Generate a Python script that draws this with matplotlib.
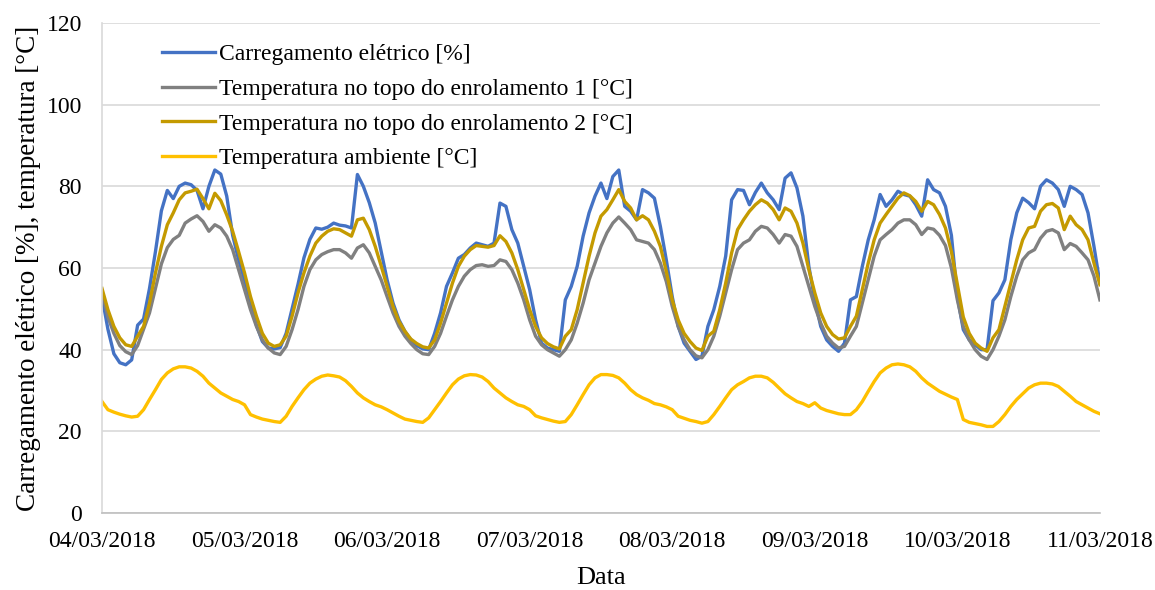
import numpy as np
import pandas as pd
import matplotlib
matplotlib.use("Agg")
import matplotlib.pyplot as plt
import matplotlib.dates as mdates

plt.rcParams['font.family'] = ['Liberation Serif', 'DejaVu Serif']

# hourly readings, 04/03/2018 00:00 .. 11/03/2018 00:00
tempo = pd.date_range('2018-03-04', periods=169, freq='h')

carregamento = [
    53, 45, 39, 36.8, 36.3, 37.5, 46, 47.5, 55, 64, 74, 79, 77, 80, 80.8, 80.4, 79, 74.5, 80, 84, 83, 77.6, 68, 62,
    57, 51.5, 46, 42, 40.4, 40.2, 40.5, 44, 50, 56, 62.5, 67, 69.8, 69.5, 70, 71, 70.5, 70.3, 69.8, 82.9, 80, 76, 71, 64,
    57.1, 51.4, 47.3, 44.5, 42.4, 41, 40.2, 40, 44, 49, 55.5, 58.8, 62.4, 63.3, 64.9, 66.1, 65.7, 65.3, 66.1, 75.9, 75.1, 69.4, 66.1, 60.4,
    54.7, 47.3, 41.6, 40.4, 40, 39.6, 52.2, 55.5, 60.4, 67.8, 73.5, 77.6, 80.8, 77, 82.4, 84, 75.1, 73.9, 71.8, 79.2, 78.4, 77.1, 70.2, 62,
    53, 45.7, 41.6, 39.6, 37.6, 38.4, 45.7, 49.8, 55.5, 62.9, 76.7, 79.2, 79, 75.5, 78.5, 80.8, 78.4, 76.7, 74.3, 82, 83.3, 79.6, 72.7, 60.4,
    52.2, 45.7, 42.4, 40.8, 39.6, 41.6, 52.2, 53, 60.4, 66.9, 71.8, 78, 75.1, 76.7, 78.8, 78, 77.6, 75.5, 72.7, 81.6, 79.2, 78.4, 75.1, 68,
    53, 44.9, 42.4, 41.2, 40, 40, 52, 53.9, 57.1, 66.9, 73.5, 77.1, 76, 74.5, 80, 81.6, 80.8, 79.2, 75.1, 80, 79.2, 78, 73.5, 65.3, 56.3]

temp_enrol1 = [
    54, 48, 44, 41, 39.5, 38.8, 41, 45, 49, 55, 61, 65, 67, 68, 71, 72, 72.8, 71.4, 69, 70.6, 69.8, 67.8, 64.5, 59.6,
    54.7, 49.8, 45.7, 42.4, 40.4, 39.2, 38.8, 40.8, 44.9, 49.8, 55.5, 59.6, 62, 63.3, 64, 64.5, 64.5, 63.7, 62.4, 64.9, 65.7, 63.7, 60.4, 57.1,
    53, 49, 45.7, 43.3, 41.5, 40, 39, 38.8, 40.8, 44, 48.2, 52.2, 55.5, 58, 59.6, 60.6, 60.8, 60.4, 60.6, 62, 61.6, 59.6, 56.3, 52.2,
    47.3, 43.3, 41.2, 40, 39.2, 38.4, 40, 42.4, 46.5, 51.4, 57.1, 61.2, 65.3, 68.6, 71, 72.5, 71, 69.4, 66.9, 66.5, 66.1, 64.5, 61.2, 56.7,
    50.6, 45.7, 42.4, 40, 38.5, 38, 40, 43.3, 48.2, 53.9, 59.6, 64.5, 66.1, 66.9, 69, 70.2, 69.8, 68.2, 66.1, 68.2, 67.8, 65.3, 60.4, 55.5,
    50.6, 46.5, 43.3, 41.6, 40.4, 40.8, 43.3, 45.7, 51.4, 57.1, 62.9, 66.9, 68.2, 69.4, 71, 71.8, 71.8, 70.6, 68.2, 69.8, 69.5, 68, 65.5, 60,
    52.2, 45.7, 42.4, 40, 38.4, 37.6, 40, 43.3, 47.3, 53, 58, 62, 63.7, 64.5, 67.3, 69, 69.4, 68.6, 64.5, 66, 65.3, 63.7, 62, 58, 52.2]

temp_enrol2 = [
    55, 49.8, 45.7, 42.9, 41.2, 40.8, 43.3, 45.7, 51.4, 58.8, 65.3, 70.6, 73.5, 76.7, 78.4, 78.8, 79.3, 77, 74.5, 78.3, 76.5, 73, 69, 64,
    58.8, 53, 48.2, 44, 41.6, 40.8, 41.2, 43.3, 48.2, 53.9, 58.8, 62.9, 66.1, 67.8, 69, 69.6, 69.4, 68.6, 67.8, 71.8, 72.2, 69.4, 65.3, 60.5,
    55.5, 50.6, 46.9, 44.5, 42.6, 41.5, 40.7, 40.4, 42.4, 46.5, 51.4, 56.3, 60.4, 62.9, 64.5, 65.5, 65.3, 65.1, 65.5, 67.9, 66.5, 63.7, 59.6, 54.7,
    49.8, 45.7, 42.9, 41.5, 40.7, 40.2, 43.3, 44.9, 49.8, 56.3, 62.9, 68.6, 72.7, 74.3, 76.7, 79.2, 76.3, 74.7, 71.8, 72.8, 71.8, 69, 65.3, 59.2,
    52.2, 47.3, 44, 42, 40.4, 39.8, 43.3, 44.5, 49.8, 56.3, 63.7, 69.4, 71.8, 73.9, 75.5, 76.7, 75.9, 74.3, 71.8, 74.7, 73.9, 71, 66.1, 59.6,
    53.9, 49, 45.7, 43.7, 42.6, 42.9, 45.7, 48.2, 54.7, 61.2, 66.9, 71, 73.1, 75.1, 77.1, 78.4, 77.7, 76.3, 73.9, 76.3, 75.5, 73.1, 69.8, 64,
    56, 48, 44, 41.6, 40.4, 39.6, 42.9, 44.9, 50.6, 56.3, 62, 66.9, 69.8, 70.2, 73.9, 75.5, 75.8, 74.7, 69.4, 72.7, 70.6, 69.4, 66.9, 61.2, 55.9]

temp_ambiente = [
    27.3, 25.3, 24.7, 24.2, 23.8, 23.5, 23.7, 25.3, 27.8, 30.2, 32.7, 34.3, 35.3, 35.8, 35.8, 35.5, 34.7, 33.5, 31.8, 30.6, 29.4, 28.6, 27.8, 27.3,
    26.5, 24.1, 23.5, 23, 22.7, 22.4, 22.2, 23.7, 26.1, 28.2, 30.2, 31.8, 32.8, 33.5, 33.8, 33.6, 33.3, 32.4, 31, 29.4, 28.2, 27.3, 26.5, 26,
    25.3, 24.5, 23.7, 23, 22.7, 22.4, 22.2, 23.3, 25.3, 27.3, 29.4, 31.4, 32.8, 33.6, 33.9, 33.8, 33.3, 32.2, 30.6, 29.4, 28.2, 27.3, 26.5, 26.1,
    25.3, 23.8, 23.3, 22.9, 22.5, 22.2, 22.4, 24.1, 26.5, 29, 31.4, 33.1, 33.9, 33.9, 33.7, 33.1, 31.8, 30.2, 29, 28.2, 27.6, 26.8, 26.5, 26,
    25.3, 23.7, 23.2, 22.7, 22.4, 22, 22.4, 24.1, 26.1, 28.2, 30.2, 31.4, 32.2, 33.1, 33.5, 33.5, 33.1, 32, 30.6, 29.2, 28.2, 27.3, 26.8, 26.1,
    27, 25.7, 25.1, 24.7, 24.3, 24.1, 24.1, 25.3, 27.3, 29.8, 32.2, 34.3, 35.5, 36.3, 36.5, 36.3, 35.8, 34.7, 33.1, 31.8, 30.8, 29.8, 29.1, 28.4,
    27.8, 22.9, 22.2, 21.9, 21.6, 21.2, 21.2, 22.4, 24.1, 26.1, 27.8, 29.2, 30.6, 31.4, 31.8, 31.8, 31.6, 31, 29.8, 28.6, 27.3, 26.5, 25.7, 24.9, 24.3]

series = [
    (carregamento, 'Carregamento elétrico [%]', '#4472C4'),
    (temp_enrol1, 'Temperatura no topo do enrolamento 1 [°C]', '#808080'),
    (temp_enrol2, 'Temperatura no topo do enrolamento 2 [°C]', '#C49A00'),
    (temp_ambiente, 'Temperatura ambiente [°C]', '#FFC000'),
]

fig = plt.figure(figsize=(11.55, 5.9), dpi=100)
ax = fig.add_axes([0.0883, 0.1305, 0.864, 0.8305])

for valores, nome, cor in series:
    ax.plot(tempo, valores, color=cor, lw=2.4, label=nome)

ax.set_ylim(0, 120)
ax.set_yticks(np.arange(0, 121, 20))
ax.set_xlim(tempo[0], tempo[-1])
ax.xaxis.set_major_locator(mdates.DayLocator())
ax.xaxis.set_major_formatter(mdates.DateFormatter('%d/%m/%Y'))

ax.grid(axis='y', color='#d9d9d9', lw=1.2)
ax.set_axisbelow(True)
for s in ['top', 'right']:
    ax.spines[s].set_visible(False)
ax.spines['left'].set_color('#d9d9d9')
ax.spines['bottom'].set_color('#bfbfbf')
ax.spines['left'].set_linewidth(1.2)
ax.spines['bottom'].set_linewidth(1.2)
ax.tick_params(axis='both', length=0, labelsize=17)
ax.tick_params(axis='x', pad=13)
ax.tick_params(axis='y', pad=14.5)

ax.set_xlabel('Data', fontsize=19, labelpad=11)
ax.set_ylabel('Carregamento elétrico [%], temperatura [°C]', fontsize=19.5, labelpad=4)

ax.legend(loc='upper left', bbox_to_anchor=(0.060, 0.958), frameon=False,
          fontsize=17, handlelength=2.25, handletextpad=0.17, labelspacing=0.56,
          borderpad=0.0, borderaxespad=0.0)

fig.savefig('out.png', dpi=100)
